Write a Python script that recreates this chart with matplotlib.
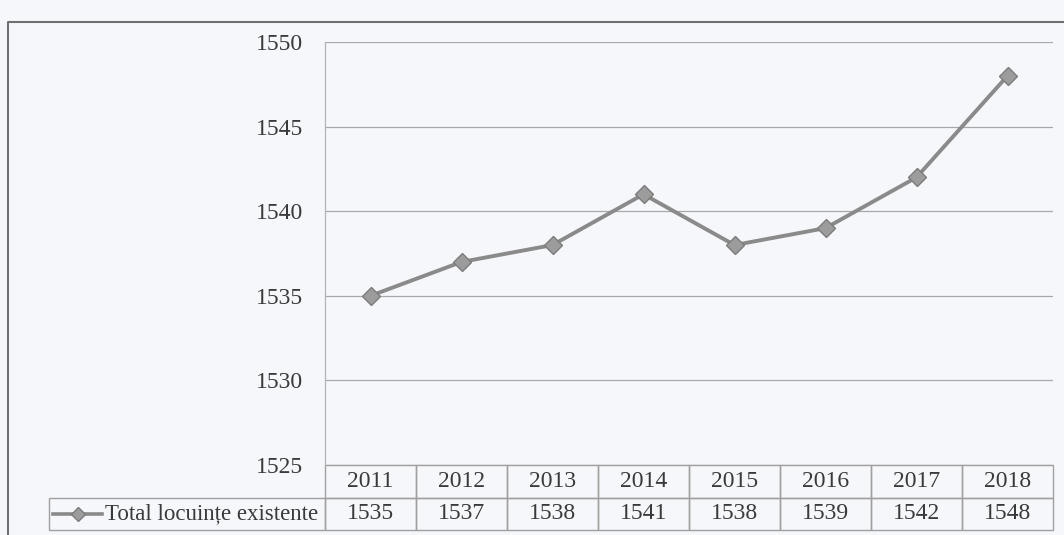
import matplotlib
matplotlib.use("Agg")
import matplotlib.pyplot as plt
from matplotlib.table import Table
from matplotlib.lines import Line2D

years = ["2011", "2012", "2013", "2014", "2015", "2016", "2017", "2018"]
values = [1535, 1537, 1538, 1541, 1538, 1539, 1542, 1548]
series_name = "Total locuințe existente"
yticks = [1525, 1530, 1535, 1540, 1545, 1550]

plt.rcParams['font.family'] = ['Liberation Serif', 'DejaVu Serif']

W, H = 1064, 535
fig = plt.figure(figsize=(W / 100, H / 100), dpi=100)
bg = '#f6f7fb'
fig.patch.set_facecolor(bg)

left_px, right_px, top_px, bot_px = 325, 1053, 42, 465
ax = fig.add_axes([left_px / W, 1 - bot_px / H, (right_px - left_px) / W, (bot_px - top_px) / H])
ax.set_facecolor(bg)

x = list(range(len(years)))
line_col = '#8a8a8a'
ax.plot(x, values, color=line_col, lw=2.8, marker='D', markersize=9,
        markerfacecolor='#9c9c9c', markeredgecolor='#7c7c7c', markeredgewidth=1.0, zorder=3)

ax.set_xlim(-0.5, len(years) - 0.5)
ax.set_ylim(yticks[0], yticks[-1])
ax.set_yticks(yticks)
ax.set_yticklabels([str(v) for v in yticks], fontsize=17, color='#3a3a3a')
ax.set_xticks([])
ax.tick_params(axis='y', length=0, pad=16)
ax.yaxis.grid(True, color='#a8a8a8', lw=0.9)
ax.set_axisbelow(True)
for s in ['top', 'right', 'bottom']:
    ax.spines[s].set_visible(False)
ax.spines['left'].set_color('#b4b4b4')
ax.spines['left'].set_linewidth(0.9)

# data table under the axis
ax_w = right_px - left_px
ax_h = bot_px - top_px
row_h = 32.5 / ax_h
lab_w = (left_px - 49) / ax_w
col_w = 1.0 / len(years)
tb = Table(ax, bbox=[0, -2 * row_h, 1, 2 * row_h])
edge = '#a0a0a0'
for j, yr in enumerate(years):
    c = tb.add_cell(0, j, width=col_w, height=row_h, text=yr, loc='center', facecolor='none', edgecolor=edge)
    c.get_text().set_fontsize(17)
    c.get_text().set_color('#3a3a3a')
    c = tb.add_cell(1, j, width=col_w, height=row_h, text=str(values[j]), loc='center', facecolor='none', edgecolor=edge)
    c.get_text().set_fontsize(17)
    c.get_text().set_color('#3a3a3a')
c = tb.add_cell(1, -1, width=lab_w, height=row_h, text='', facecolor='none', edgecolor=edge)
tb.auto_set_font_size(False)
ax.add_table(tb)

# legend key inside the row-label cell
ky = -1.5 * row_h
kx0 = (53 - left_px) / ax_w
kx1 = (102 - left_px) / ax_w
ax.add_line(Line2D([kx0, kx1], [ky, ky], transform=ax.transAxes, color=line_col, lw=2.6, clip_on=False))
ax.add_line(Line2D([(kx0 + kx1) / 2], [ky], transform=ax.transAxes, marker='D', markersize=7,
                   markerfacecolor='#9c9c9c', markeredgecolor='#7c7c7c', clip_on=False, lw=0))
ax.text((105 - left_px) / ax_w, ky, series_name, transform=ax.transAxes, fontsize=16.5,
        ha='left', va='center', color='#3a3a3a')

# outer frame of the scanned chart
fig.add_artist(Line2D([8 / W, 8 / W, 1.0], [0.0, 1 - 22 / H, 1 - 22 / H], transform=fig.transFigure,
                      color='#707070', lw=1.5))

fig.savefig('out.png', dpi=100, facecolor=fig.get_facecolor())
